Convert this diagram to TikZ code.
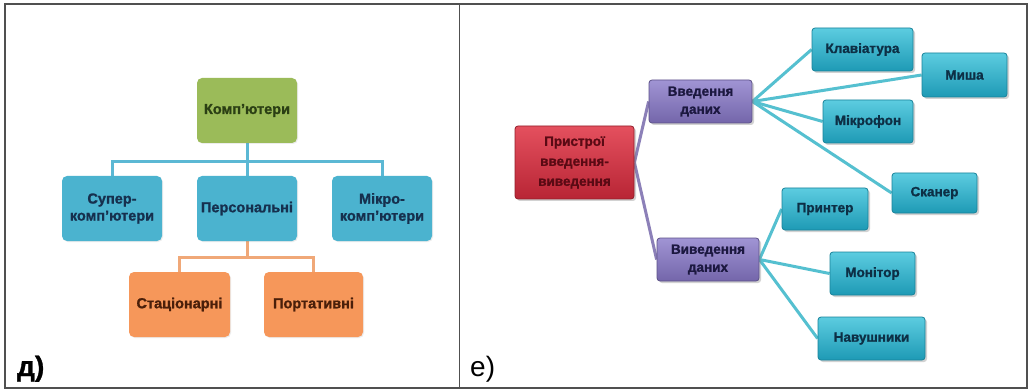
\documentclass[tikz,border=0pt]{standalone}
\usepackage{fontspec}
\setmainfont{Liberation Sans}[BoldFeatures={FakeBold=1.2}]
\usetikzlibrary{shadows,backgrounds}
\definecolor{gbox}{HTML}{9BBB59}
\definecolor{gtxt}{HTML}{2B3F14}
\definecolor{cbox}{HTML}{4BB3CF}
\definecolor{ctxt}{HTML}{16304E}
\definecolor{obox}{HTML}{F6975A}
\definecolor{otxt}{HTML}{4A1F0A}
\definecolor{cline}{HTML}{5BB8D4}
\definecolor{oline}{HTML}{F0A878}
\definecolor{rtop}{HTML}{E4505E}
\definecolor{rbot}{HTML}{B82535}
\definecolor{rtxt}{HTML}{5A0A14}
\definecolor{ptop}{HTML}{A094D4}
\definecolor{pbot}{HTML}{7466AA}
\definecolor{ptxt}{HTML}{1C1840}
\definecolor{ctop}{HTML}{5CCCE0}
\definecolor{cbot}{HTML}{1E9AB5}
\definecolor{rctxt}{HTML}{0D2F45}
\definecolor{rcline}{HTML}{55C0D0}
\definecolor{pline}{HTML}{8C80B8}
\definecolor{frame}{HTML}{505050}
\tikzset{
  flatbox/.style={rounded corners=5pt, inner sep=2pt, align=center,
    font=\fontsize{14.5}{17}\selectfont\bfseries, minimum height=65pt,
    drop shadow={opacity=0.15, shadow xshift=1pt, shadow yshift=-1pt}},
  greenbox/.style={flatbox, fill=gbox, text=gtxt, minimum width=100pt},
  cyanbox/.style={flatbox, fill=cbox, text=ctxt, minimum width=100pt},
  orangebox/.style={flatbox, fill=obox, text=otxt, minimum width=100pt},
  bevel/.style={rounded corners=3pt, inner sep=2pt, align=center,
    font=\fontsize{13.5}{18}\selectfont\bfseries, line width=0.8pt,
    drop shadow={opacity=0.35, shadow xshift=2pt, shadow yshift=-2pt}},
  redbox/.style={bevel, top color=rtop, bottom color=rbot, draw=rbot!80!black, text=rtxt,
    font=\fontsize{13.5}{20}\selectfont\bfseries},
  purplebox/.style={bevel, top color=ptop, bottom color=pbot, draw=pbot!80!black, text=ptxt},
  tealbox/.style={bevel, top color=ctop, bottom color=cbot, draw=cbot!85!black, text=rctxt},
  cconn/.style={draw=cline, line width=3pt},
  oconn/.style={draw=oline, line width=3pt},
  tconn/.style={draw=rcline, line width=3pt},
  pconn/.style={draw=pline, line width=3pt},
  panellabel/.style={font=\fontsize{28}{30}\selectfont, anchor=base west, inner sep=0pt}
}
\begin{document}
\begin{tikzpicture}[x=1pt,y=-1pt]
\useasboundingbox (0,0) rectangle (1030,390);
% ---------- panel д ----------
\node[greenbox] (comp) at (247,110.5) {Комп’ютери};
\node[cyanbox] (super) at (112,208.5) {Супер-\\комп’ютери};
\node[cyanbox] (pers) at (247,208.5) {Персональні};
\node[cyanbox] (micro) at (382,208.5) {Мікро-\\комп’ютери};
\node[orangebox, minimum width=101pt] (stat) at (179.5,304.5) {Стаціонарні};
\node[orangebox, minimum width=99pt] (port) at (313.5,304.5) {Портативні};
\node[panellabel, font=\fontsize{28}{30}\selectfont\bfseries] (labd) at (17,376) {д)};
% ---------- panel е ----------
\node[redbox, minimum width=119pt, minimum height=73pt] (io) at (574.5,162.5) {Пристрої\\введення-\\виведення};
\node[purplebox, minimum width=103pt, minimum height=43pt] (vin) at (700.5,101.5) {Введення\\даних};
\node[purplebox, minimum width=102pt, minimum height=43pt] (vout) at (708,259.5) {Виведення\\даних};
\node[tealbox, minimum width=101pt, minimum height=43pt] (kbd) at (862.5,49.5) {Клавіатура};
\node[tealbox, minimum width=85pt, minimum height=44pt] (mouse) at (964.5,75) {Миша};
\node[tealbox, minimum width=90pt, minimum height=43pt] (mic) at (868,121.5) {Мікрофон};
\node[tealbox, minimum width=85pt, minimum height=40pt] (scan) at (934.5,193) {Сканер};
\node[tealbox, minimum width=86pt, minimum height=42pt] (prn) at (825,209) {Принтер};
\node[tealbox, minimum width=85pt, minimum height=43pt] (mon) at (872.5,273.5) {Монітор};
\node[tealbox, minimum width=107pt, minimum height=43pt] (head) at (871.5,338.5) {Навушники};
\node[panellabel] (labe) at (470,376) {е)};
\begin{scope}[on background layer]
  \fill[white] (0,0) rectangle (1030,390);
  \draw[frame, line width=1.5pt] (5,4) rectangle (1027,388);
  \draw[frame, line width=1.5pt] (459.5,4) -- (459.5,388);
  % д connectors
  \draw[cconn] (comp.south) -- (pers.north);
  \draw[cconn] (comp.south) -- ++(0,18) -| (super.north);
  \draw[cconn] (comp.south) -- ++(0,18) -| (micro.north);
  \draw[oconn] (pers.south) -- ++(0,16) -| (stat.north);
  \draw[oconn] (pers.south) -- ++(0,16) -| (port.north);
  % е connectors
  \draw[pconn] (io.east) -- (vin.west);
  \draw[pconn] (io.east) -- (vout.west);
  \draw[tconn] (vin.east) -- (kbd.west);
  \draw[tconn] (vin.east) -- (mouse.west);
  \draw[tconn] (vin.east) -- (mic.west);
  \draw[tconn] (vin.east) -- (scan.west);
  \draw[tconn] (vout.east) -- (prn.west);
  \draw[tconn] (vout.east) -- (mon.west);
  \draw[tconn] (vout.east) -- (head.west);
\end{scope}
\end{tikzpicture}
\end{document}
